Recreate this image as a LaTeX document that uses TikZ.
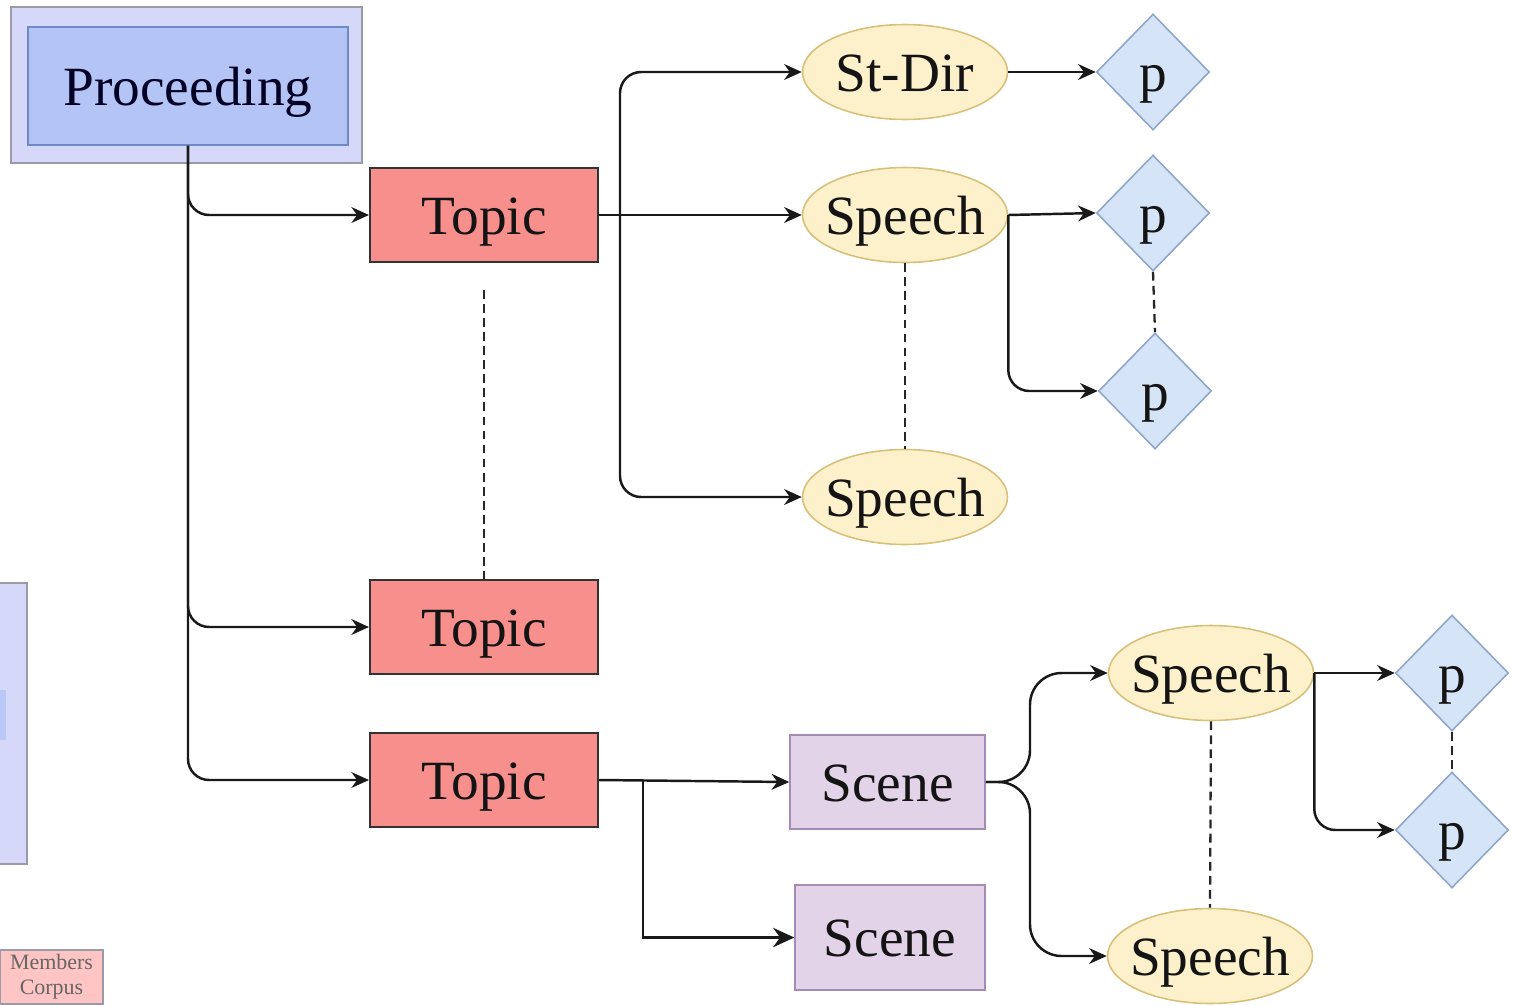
\documentclass[tikz,border=0pt]{standalone}
\usepackage{fontspec}
\setmainfont{Liberation Serif}
\usetikzlibrary{shapes.geometric,arrows.meta}
\definecolor{lav}{HTML}{D5D8F8}
\definecolor{lavb}{HTML}{9A9AA8}
\definecolor{procf}{HTML}{B4C4F4}
\definecolor{procb}{HTML}{6F88C6}
\definecolor{topf}{HTML}{F78F8C}
\definecolor{ellf}{HTML}{FCF1CA}
\definecolor{ellb}{HTML}{D8C07A}
\definecolor{diaf}{HTML}{D6E4F8}
\definecolor{diab}{HTML}{8EA6CC}
\definecolor{scf}{HTML}{E2D3E8}
\definecolor{scb}{HTML}{A68BB6}
\definecolor{memf}{HTML}{FFC4C4}
\begin{document}
\begin{tikzpicture}[x=0.02cm,y=-0.02cm,
  lbl/.style={font=\fontsize{31.5}{33}\selectfont, text=black!92, text height=22pt, text depth=0pt},
  topicbox/.style={lbl, draw=black!80, line width=1.2pt, fill=topf, minimum width=4.56cm, minimum height=1.88cm, inner sep=0pt},
  scenebox/.style={lbl, draw=scb, line width=0.9pt, fill=scf, inner sep=0pt},
  ell/.style={lbl, ellipse, draw=ellb, line width=0.9pt, fill=ellf, minimum width=4.1cm, minimum height=1.9cm, inner sep=0pt},
  dia/.style={lbl, diamond, draw=diab, line width=0.9pt, fill=diaf, minimum width=2.26cm, minimum height=2.32cm, inner sep=0pt},
  arr/.style={line width=1.4pt, draw=black!90, -{Stealth[length=10pt,width=9pt]}},
  bigarr/.style={line width=1.4pt, draw=black!90, -{Stealth[length=12pt,width=11pt]}},
  dots/.style={line width=1.3pt, draw=black!85, dash pattern=on 5pt off 3pt},
  rc/.style={rounded corners=12pt}
]
\useasboundingbox (0,0) rectangle (1515,1005);

% left fragment and legend
\node[draw=lavb, line width=0.9pt, fill=lav, minimum width=0.6cm, minimum height=5.62cm, inner sep=0pt] (frag) at (12,723.5) {};
\node[fill=procf!80!lav, minimum width=0.12cm, minimum height=1.0cm, inner sep=0pt] (fragin) at (3,715) {};
\node[draw=lavb, line width=0.9pt, fill=memf, minimum width=2.06cm, minimum height=1.08cm, inner sep=0pt, align=center, text=black!60, font=\fontsize{12.5}{14}\selectfont] (mem) at (51.5,977) {Members\\Corpus};

% Proceeding
\node[draw=lavb, line width=0.9pt, fill=lav, minimum width=7.02cm, minimum height=3.12cm, inner sep=0pt] (procout) at (186.5,85) {};
\node[lbl, draw=procb, line width=0.9pt, fill=procf, minimum width=6.4cm, minimum height=2.36cm, inner sep=0pt, text=black!85!blue] (proc) at (188,86) {Proceeding};

% Topics
\node[topicbox] (t1) at (484,215) {Topic};
\node[topicbox] (t2) at (484,627) {Topic};
\node[topicbox] (t3) at (484,780) {Topic};

% Ellipses
\node[ell] (sd) at (905,72) {\makebox[0pt]{St-Dir}};
\node[ell] (sp1) at (905,215) {\makebox[0pt]{Speech}};
\node[ell] (sp2) at (905,497) {\makebox[0pt]{Speech}};
\node[ell] (sp3) at (1211,673) {\makebox[0pt]{Speech}};
\node[ell] (sp4) at (1210,956) {\makebox[0pt]{Speech}};

% Scenes
\node[scenebox, minimum width=3.9cm, minimum height=1.88cm] (sc1) at (887.5,782) {Scene};
\node[scenebox, minimum width=3.8cm, minimum height=2.1cm] (sc2) at (890,937.5) {Scene};

% Diamonds
\node[dia] (p1) at (1153,72) {p};
\node[dia] (p2) at (1153,213) {p};
\node[dia] (p3) at (1155,391) {p};
\node[dia] (p4) at (1452,673) {p};
\node[dia] (p5) at (1452,830) {p};

% Proceeding to topics
\draw[arr,rc] (proc.south) |- (t1.west);
\draw[arr,rc] (proc.south) |- (t2.west);
\draw[arr,rc] (proc.south) |- (t3.west);

% Topic 1 branches
\coordinate (b1) at (620,215);
\draw[arr] (t1.east) -- (sp1.west);
\draw[arr,rc] (b1) |- (sd.west);
\draw[arr,rc] (b1) |- (sp2.west);

% St-Dir and Speech to p
\draw[arr] (sd.east) -- (p1.west);
\draw[arr] (sp1.east) -- (p2.west);
\draw[arr,rc] (sp1.east) |- (p3.west);

% Topic 3 to scenes
\coordinate (b3) at (643,780);
\draw[arr] (t3.east) -- (sc1.west);
\draw[bigarr] (b3) |- (sc2.west);

% Scene to speeches
\coordinate (b4) at (1030,782);
\draw[arr,rounded corners=18pt] (sc1.east) -- (b4) |- (sp3.west);
\draw[arr,rounded corners=18pt] (sc1.east) -- (b4) |- (sp4.west);

% Speech to p
\draw[arr] (sp3.east) -- (p4.west);
\draw[arr,rc] (sp3.east) |- (p5.west);

% dotted continuation lines
\coordinate (d1) at (484,290);
\draw[dots] (d1) -- (t2.north);
\draw[dots] (sp1.south) -- (sp2.north);
\draw[dots] (p2.south) -- (p3.north);
\draw[dots] (sp3.south) -- (sp4.north);
\draw[dots] (p4.south) -- (p5.north);
\end{tikzpicture}
\end{document}
